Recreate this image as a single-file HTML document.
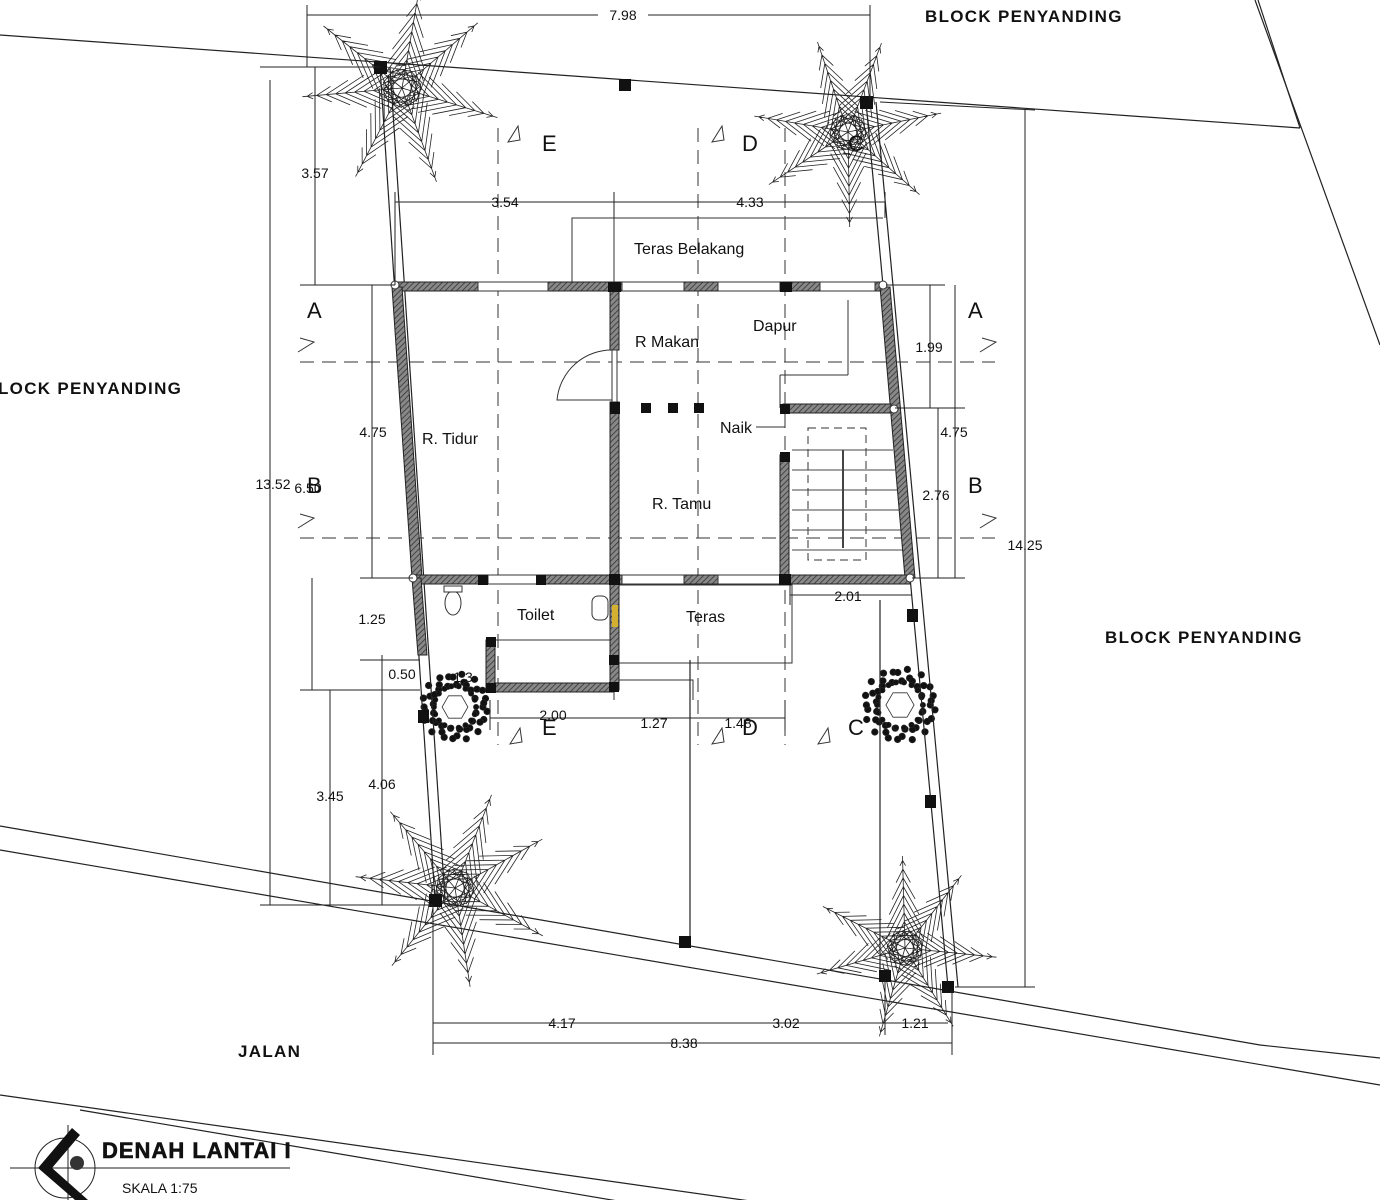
<!DOCTYPE html>
<html><head><meta charset="utf-8">
<style>
html,body{margin:0;padding:0;background:#fff;width:1380px;height:1200px;overflow:hidden}
svg{display:block}
text{font-family:"Liberation Sans",Arial,sans-serif;fill:#111}
</style></head>
<body>
<svg id="s" width="1380" height="1200" viewBox="0 0 1380 1200" xmlns="http://www.w3.org/2000/svg">
<defs>
<pattern id="h" width="4" height="4" patternUnits="userSpaceOnUse" patternTransform="rotate(45)">
<rect width="4" height="4" fill="#888"/><line x1="0" y1="0" x2="0" y2="4" stroke="#333" stroke-width="1.6"/>
</pattern>
</defs>
<g id="trees" stroke="#222" stroke-width="0.8" fill="none"></g>

<g stroke="#222" stroke-width="1.2" fill="none">
<line x1="0" y1="35" x2="1300" y2="128"/>
<line x1="1258" y1="0" x2="1300" y2="128"/>
<line x1="1255" y1="0" x2="1380" y2="345"/>
<line x1="0" y1="826" x2="1260" y2="1045"/>
<line x1="1260" y1="1045" x2="1380" y2="1058"/>
<line x1="0" y1="850" x2="1380" y2="1085"/>
<line x1="0" y1="1095" x2="1380" y2="1290"/>
<line x1="80" y1="1110" x2="1380" y2="1330"/>
<line x1="380" y1="67" x2="435" y2="900"/>
<line x1="390" y1="67" x2="445" y2="900"/>
<line x1="866" y1="102" x2="948" y2="987"/>
<line x1="876" y1="102" x2="958" y2="987"/>
<line x1="690" y1="660" x2="690" y2="942"/>
<line x1="880" y1="600" x2="880" y2="976"/>
</g>
<g fill="#111">
<rect x="374" y="61" width="13" height="13"/><rect x="619" y="79" width="12" height="12"/><rect x="860" y="96" width="13" height="13"/>
<rect x="429" y="894" width="13" height="13"/><rect x="679" y="936" width="12" height="12"/><rect x="879" y="970" width="12" height="12"/><rect x="942" y="981" width="12" height="12"/>
<rect x="907" y="609" width="11" height="13"/><rect x="925" y="795" width="11" height="13"/><rect x="418" y="710" width="11" height="13"/>
</g>

<g stroke="#333" stroke-width="1" stroke-dasharray="14,8" fill="none">
<line x1="498" y1="128" x2="498" y2="745"/>
<line x1="698" y1="128" x2="698" y2="745"/>
<line x1="785" y1="128" x2="785" y2="745"/>
<line x1="300" y1="362" x2="995" y2="362"/>
<line x1="300" y1="538" x2="995" y2="538"/>
</g>
<g font-size="22">
<text x="542" y="151">E</text><text x="742" y="151">D</text><text x="848" y="151">C</text>
<text x="307" y="318">A</text><text x="968" y="318">A</text>
<text x="307" y="493">B</text><text x="968" y="493">B</text>
<text x="542" y="735">E</text><text x="742" y="735">D</text><text x="848" y="735">C</text>
</g>
<g stroke="#333" stroke-width="1" fill="none">
<path d="M508 142 L518 126 L520 140 Z M712 142 L722 126 L724 140 Z M298 352 L314 342 L300 338 M298 528 L314 518 L300 514 M980 352 L996 342 L982 338 M980 528 L996 518 L982 514 M510 744 L520 728 L522 742 Z M712 744 L722 728 L724 742 Z M818 744 L828 728 L830 742 Z"/>
</g>

<g stroke="#333" stroke-width="1" fill="none">
<polyline points="572,285 572,218 883,218"/>
<line x1="614" y1="218" x2="614" y2="285"/>
<line x1="780" y1="375" x2="848" y2="375"/>
<line x1="848" y1="300" x2="848" y2="375"/>
<line x1="780" y1="375" x2="780" y2="408"/>
<rect x="614" y="585" width="178" height="78"/>
<rect x="490" y="640" width="124" height="50"/>
<line x1="614" y1="663" x2="614" y2="700"/>
<polyline points="618,680 693,680 693,700"/>
<rect x="808" y="428" width="58" height="132" stroke-dasharray="8,5"/>
<g stroke="#444">
<line x1="792" y1="450" x2="893" y2="450"/><line x1="792" y1="470" x2="895" y2="470"/><line x1="792" y1="490" x2="897" y2="490"/><line x1="792" y1="510" x2="899" y2="510"/><line x1="792" y1="530" x2="901" y2="530"/><line x1="792" y1="550" x2="903" y2="550"/>
<line x1="843" y1="450" x2="843" y2="548" stroke-width="2"/>
</g>
<path d="M614 350 A55 55 0 0 0 557 400 L614 400"/>
</g>
<g fill="url(#h)" stroke="#222" stroke-width="1">
<rect x="393" y="282" width="490" height="9"/>
<polygon points="392,287 402,287 422,578 412,578"/>
<polygon points="880,287 890,287 915,578 905,578"/>
<rect x="413" y="575" width="497" height="9"/>
<rect x="610" y="282" width="9" height="68"/>
<rect x="610" y="402" width="9" height="288"/>
<rect x="783" y="404" width="108" height="9"/>
<rect x="780" y="455" width="9" height="125"/>
<polygon points="412,578 421,578 427,655 418,655"/>
<rect x="490" y="683" width="124" height="9"/>
<rect x="486" y="640" width="9" height="52"/>
</g>
<g fill="#fff" stroke="#333" stroke-width="1">
<rect x="478" y="282" width="70" height="9"/><rect x="622" y="282" width="62" height="9"/><rect x="718" y="282" width="62" height="9"/><rect x="820" y="282" width="55" height="9"/>
<rect x="488" y="575" width="50" height="9"/><rect x="622" y="575" width="62" height="9"/><rect x="718" y="575" width="62" height="9"/>
<rect x="612" y="350" width="5" height="52"/>
</g>
<g fill="#111">
<rect x="608" y="282" width="13" height="10"/><rect x="780" y="282" width="12" height="10"/><rect x="610" y="402" width="10" height="12"/>
<rect x="641" y="403" width="10" height="10"/><rect x="668" y="403" width="10" height="10"/><rect x="694" y="403" width="10" height="10"/>
<rect x="780" y="404" width="10" height="10"/><rect x="780" y="452" width="10" height="10"/>
<rect x="478" y="575" width="10" height="10"/><rect x="536" y="575" width="10" height="10"/><rect x="609" y="574" width="11" height="11"/><rect x="779" y="574" width="12" height="11"/>
<rect x="609" y="655" width="10" height="10"/><rect x="609" y="682" width="10" height="10"/><rect x="486" y="683" width="10" height="10"/><rect x="486" y="637" width="10" height="10"/>
</g>
<g fill="#fff" stroke="#333"><circle cx="395" cy="285" r="4"/><circle cx="883" cy="285" r="4"/><circle cx="894" cy="409" r="4"/><circle cx="413" cy="578" r="4"/><circle cx="910" cy="578" r="4"/>
<ellipse cx="453" cy="603" rx="8" ry="12"/><rect x="444" y="586" width="18" height="6"/><rect x="592" y="596" width="16" height="24" rx="6"/></g>
<rect x="612" y="605" width="6" height="22" fill="#d4b030"/>

<g stroke="#222" stroke-width="1" fill="none">
<line x1="307" y1="15" x2="870" y2="15"/><line x1="307" y1="5" x2="307" y2="67"/><line x1="870" y1="5" x2="870" y2="100"/>
<line x1="270" y1="80" x2="270" y2="905"/><line x1="260" y1="67" x2="380" y2="67"/><line x1="260" y1="905" x2="432" y2="905"/>
<line x1="315" y1="67" x2="315" y2="285"/><line x1="300" y1="285" x2="395" y2="285"/>
<line x1="372" y1="285" x2="372" y2="578"/><line x1="360" y1="578" x2="413" y2="578"/>
<line x1="312" y1="578" x2="312" y2="690"/><line x1="300" y1="690" x2="420" y2="690"/>
<line x1="330" y1="690" x2="330" y2="905"/><line x1="382" y1="655" x2="382" y2="905"/><line x1="360" y1="660" x2="420" y2="660"/>
<line x1="1025" y1="110" x2="1025" y2="987"/><line x1="880" y1="102" x2="1035" y2="110"/><line x1="955" y1="987" x2="1035" y2="987"/>
<line x1="930" y1="285" x2="930" y2="408"/><line x1="886" y1="285" x2="945" y2="285"/><line x1="895" y1="408" x2="965" y2="408"/>
<line x1="938" y1="408" x2="938" y2="578"/><line x1="912" y1="578" x2="965" y2="578"/><line x1="955" y1="285" x2="955" y2="578"/>
<line x1="395" y1="202" x2="885" y2="202"/><line x1="395" y1="192" x2="395" y2="285"/><line x1="614" y1="192" x2="614" y2="218"/><line x1="885" y1="192" x2="885" y2="218"/>
<line x1="490" y1="718" x2="785" y2="718"/><line x1="490" y1="700" x2="490" y2="730"/><line x1="785" y1="700" x2="785" y2="730"/>
<line x1="790" y1="595" x2="912" y2="595"/><line x1="790" y1="585" x2="790" y2="605"/>
<line x1="433" y1="1023" x2="948" y2="1023"/><line x1="433" y1="1043" x2="952" y2="1043"/>
<line x1="433" y1="905" x2="433" y2="1055"/><line x1="952" y1="990" x2="952" y2="1055"/><line x1="885" y1="980" x2="885" y2="1035"/>
</g>
<g font-size="14" text-anchor="middle">
<rect x="598" y="5" width="50" height="18" fill="#fff"/><text x="623" y="20">7.98</text>
<text x="315" y="178">3.57</text>
<text x="373" y="437">4.75</text>
<text x="273" y="489">13.52</text><text x="308" y="493">6.50</text>
<text x="372" y="624">1.25</text><text x="402" y="679">0.50</text><text x="463" y="682">1.3</text>
<text x="330" y="801">3.45</text><text x="382" y="789">4.06</text>
<text x="1025" y="550">14.25</text>
<text x="929" y="352">1.99</text><text x="954" y="437">4.75</text><text x="936" y="500">2.76</text>
<text x="505" y="207">3.54</text><text x="750" y="207">4.33</text>
<text x="553" y="720">2.00</text><text x="654" y="728">1.27</text><text x="738" y="728">1.48</text>
<text x="848" y="601">2.01</text>
<text x="562" y="1028">4.17</text><text x="786" y="1028">3.02</text><text x="915" y="1028">1.21</text><text x="684" y="1048">8.38</text>
</g>
<g font-size="16">
<text x="634" y="254">Teras Belakang</text>
<text x="635" y="347">R Makan</text>
<text x="753" y="331">Dapur</text>
<text x="720" y="433">Naik</text>
<text x="422" y="444">R. Tidur</text>
<text x="652" y="509">R. Tamu</text>
<text x="517" y="620">Toilet</text>
<text x="686" y="622" fill="#777">Teras</text>
</g>
<line x1="756" y1="427" x2="785" y2="427" stroke="#333"/>
<g font-size="17" font-weight="bold" letter-spacing="1.3">
<text x="925" y="22">BLOCK PENYANDING</text>
<text x="-2" y="394">LOCK PENYANDING</text>
<text x="1105" y="643">BLOCK PENYANDING</text>
<text x="238" y="1057">JALAN</text>
</g>
<circle cx="65" cy="1168" r="30" fill="none" stroke="#222"/>
<line x1="10" y1="1168" x2="290" y2="1168" stroke="#222"/>
<line x1="68" y1="1125" x2="68" y2="1200" stroke="#222"/>
<polygon points="72,1128 80,1135 52,1168 88,1200 75,1200 38,1168" fill="#111"/>
<circle cx="77" cy="1163" r="7" fill="#333"/>
<text x="102" y="1158" font-size="22" font-weight="900" letter-spacing="1" stroke="#111" stroke-width="0.6">DENAH LANTAI I</text>
<text x="122" y="1193" font-size="14" fill="#444">SKALA 1:75</text>
</svg>
<script>
(function(){
var g=document.getElementById('trees'),ns='http://www.w3.org/2000/svg',d='';
function L(a,b,c,e){d+='M'+a.toFixed(1)+' '+b.toFixed(1)+'L'+c.toFixed(1)+' '+e.toFixed(1);}
function palm(cx,cy,R,rot){
 for(var k=0;k<7;k++){
  var a=rot+k*2*Math.PI/7+0.15*Math.sin(k*3), ex=cx+R*Math.cos(a), ey=cy+R*Math.sin(a);
  L(cx,cy,ex,ey);
  for(var i=2;i<=10;i++){
   var t=i/10.5, px=cx+(ex-cx)*t, py=cy+(ey-cy)*t, bl=R*0.42*Math.sin(Math.PI*Math.min(0.95,t*0.9+0.1));
   for(var s=-1;s<=1;s+=2){var b=a+s*2.65; L(px,py,px+bl*Math.cos(b),py+bl*Math.sin(b));}
  }
 }
}
palm(402,88,100,0.3);palm(848,132,95,-0.2);palm(455,888,100,0.5);palm(905,948,92,0.1);
var p=document.createElementNS(ns,'path');p.setAttribute('d',d);g.appendChild(p);
function shrub(cx,cy,r){
 var c=document.createElementNS(ns,'g');
 var s='';
 for(var i=0;i<46;i++){var a=i*2*Math.PI/46,rr=r*(0.82+0.18*Math.sin(i*2.3));s+='<circle cx="'+(cx+rr*Math.cos(a)).toFixed(1)+'" cy="'+(cy+rr*Math.sin(a)).toFixed(1)+'" r="3.2" fill="#111"/>';}
 for(var i=0;i<18;i++){var a=i*2*Math.PI/18,rr=r*0.62;s+='<circle cx="'+(cx+rr*Math.cos(a)).toFixed(1)+'" cy="'+(cy+rr*Math.sin(a)).toFixed(1)+'" r="2.6" fill="#111"/>';}
 s+='<polygon points="'+[0,1,2,3,4,5].map(function(i){var a=i*Math.PI/3;return (cx+r*0.38*Math.cos(a)).toFixed(1)+','+(cy+r*0.38*Math.sin(a)).toFixed(1);}).join(' ')+'" fill="none" stroke="#333"/>';
 c.innerHTML=s;g.appendChild(c);
}
shrub(455,707,34);shrub(900,705,37);
})();
</script>
</body></html>
